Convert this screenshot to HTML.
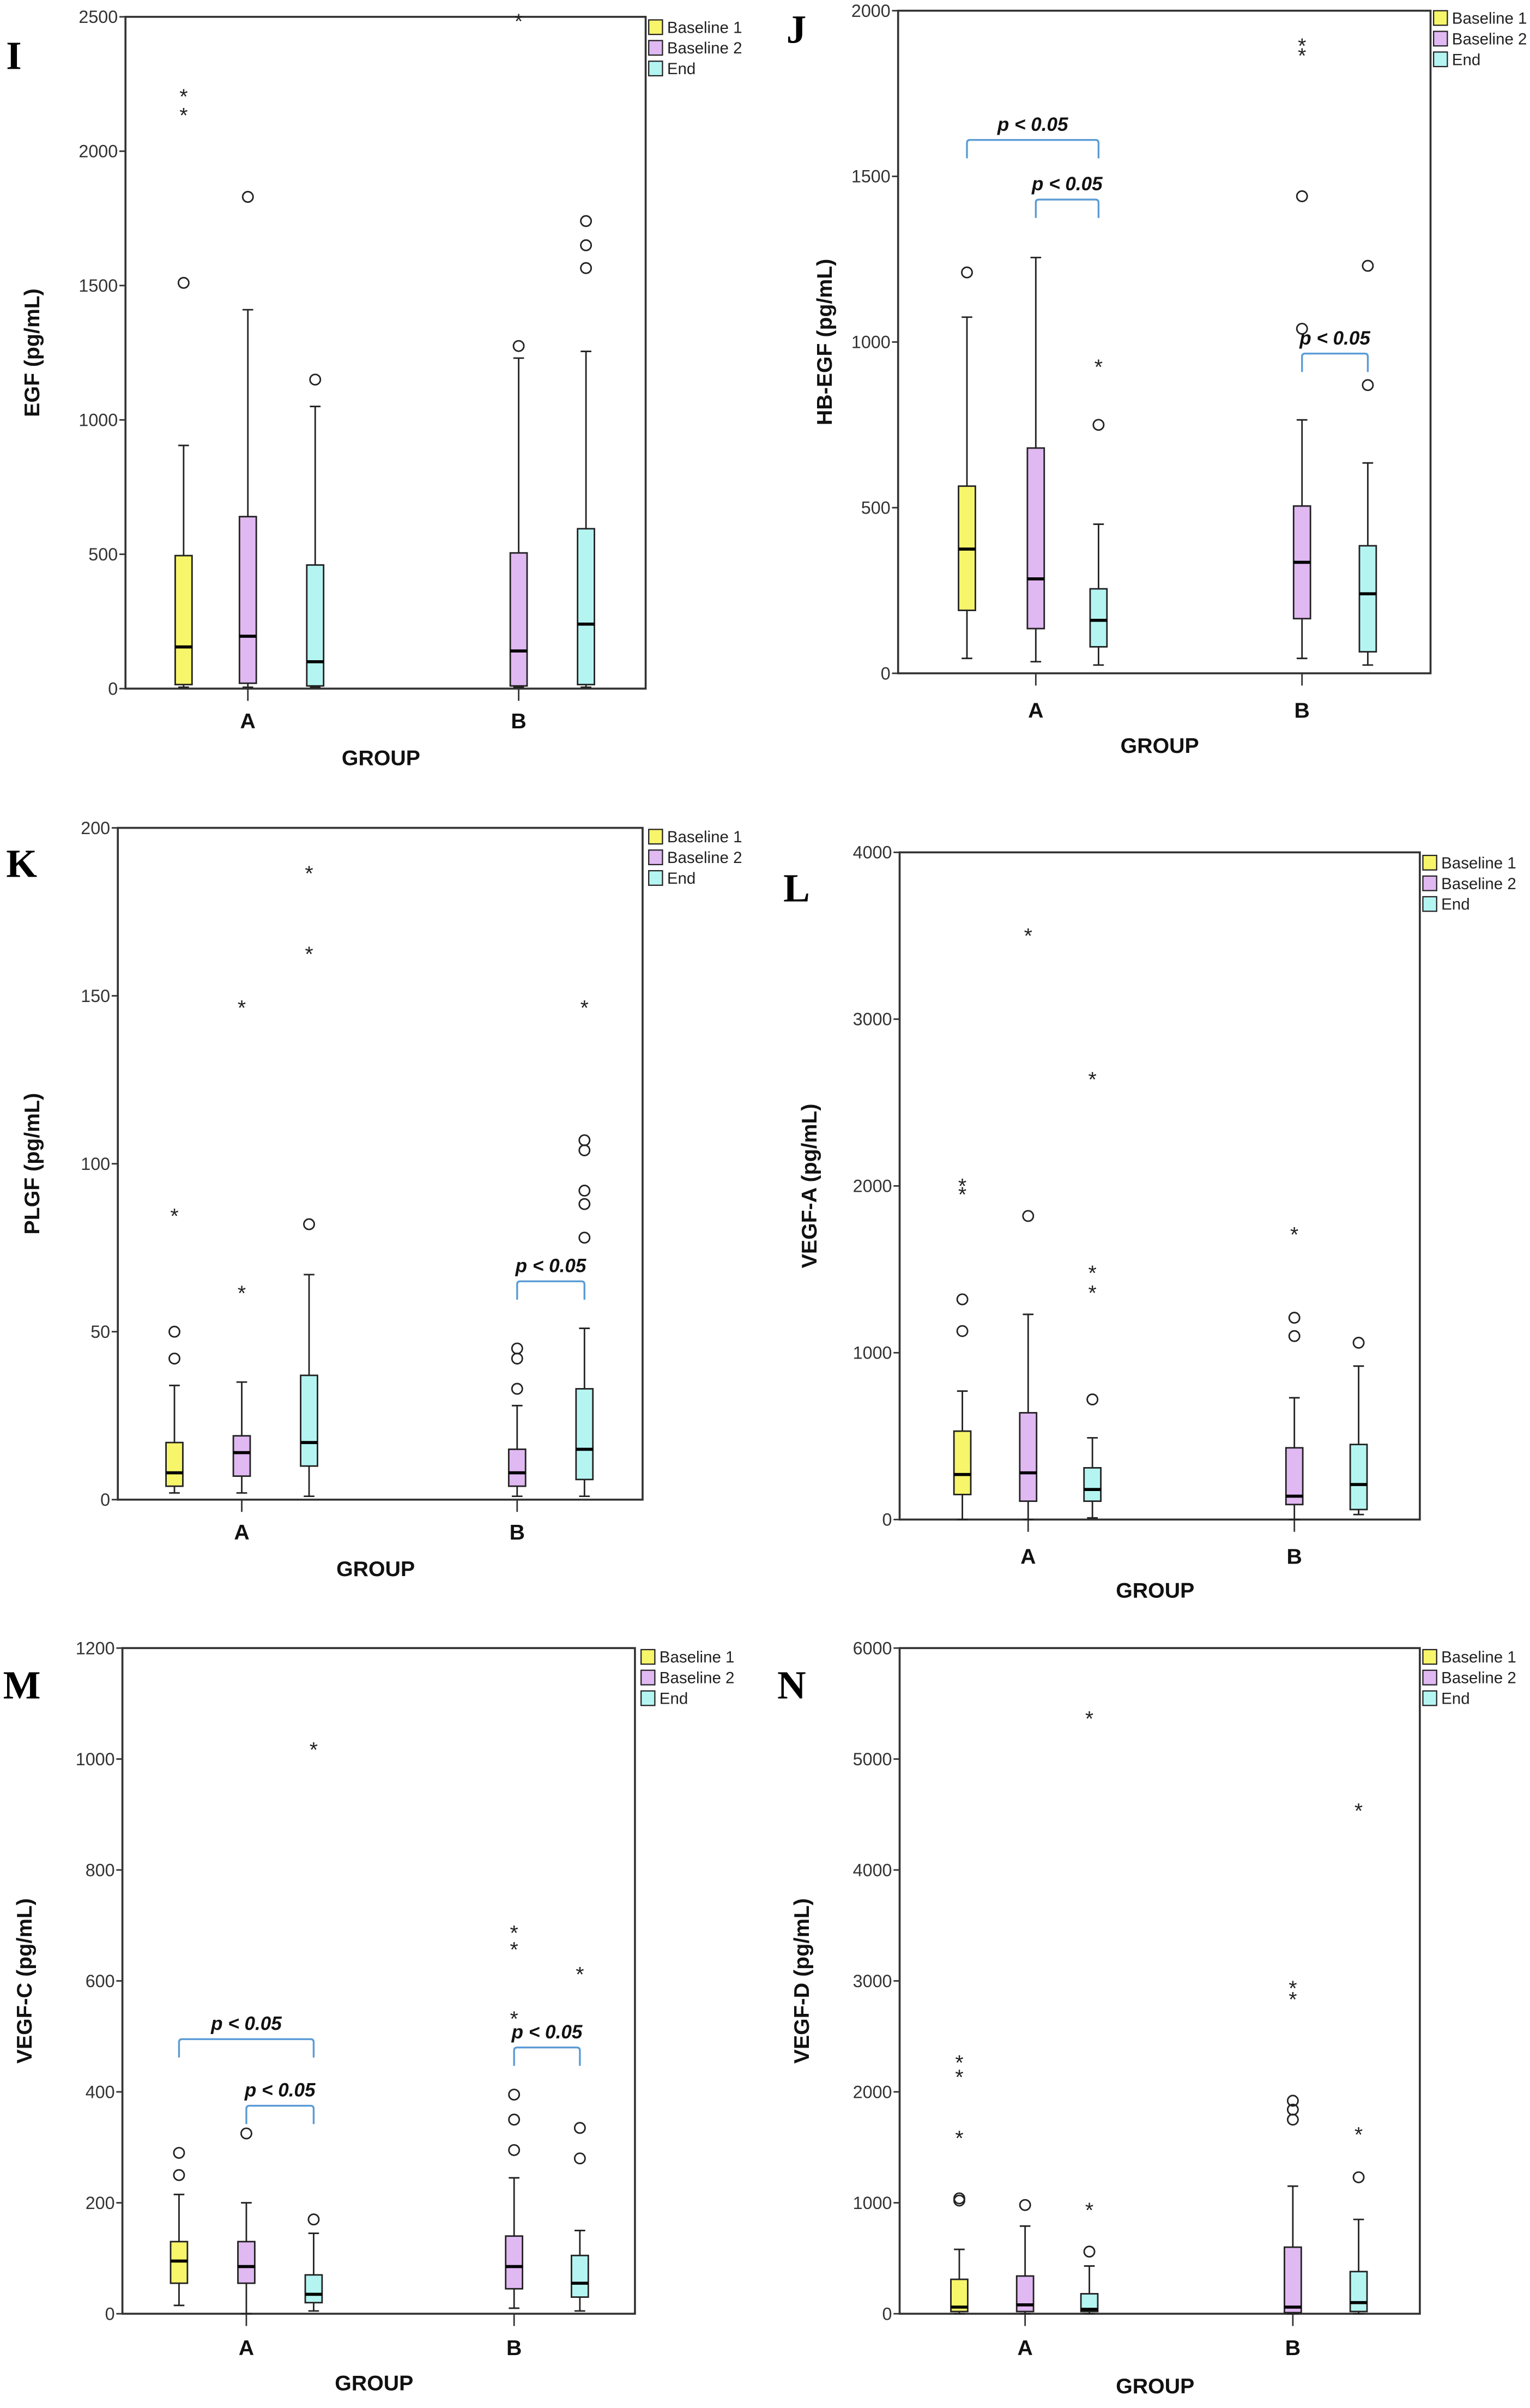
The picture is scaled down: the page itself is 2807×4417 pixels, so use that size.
<!DOCTYPE html>
<html><head><meta charset="utf-8"><style>
html,body{margin:0;padding:0;background:#fff;}
svg{display:block;}
</style></head><body>
<svg id="fig" xmlns="http://www.w3.org/2000/svg" width="2807" height="4417" viewBox="0 0 1000 1573.6" font-family="Liberation Sans, sans-serif">
<rect width="1000" height="1573.6" fill="#fff"/>
</svg>
<script>
// ---- data (box stats: [low, q1, median, q3, high]) ----
const groups = ["A","B"];
const seriesNames = ["Baseline 1","Baseline 2","End"];
const iTicks = [0,500,1000,1500,2000,2500];
const iStats = [[5,15,155,495,905],[5,20,195,640,1410],[5,10,100,460,1050],null,[5,10,140,505,1230],[5,15,240,595,1255]];
const iCircles = [[1510],[1830],[1150],[],[1275],[1565,1650,1740]];
const iStars = [[2210,2140],[],[],[],[2490],[]];
const jTicks = [0,500,1000,1500,2000];
const jStats = [[45,190,375,565,1075],[35,135,285,680,1255],[25,80,160,255,450],null,[45,165,335,505,765],[25,65,240,385,635]];
const jCircles = [[1210],[],[750],[],[1040,1440],[870,1230]];
const jStars = [[],[],[930],[],[1870,1900],[]];
const kTicks = [0,50,100,150,200];
const kStats = [[2,4,8,17,34],[2,7,14,19,35],[1,10,17,37,67],null,[1,4,8,15,28],[1,6,15,33,51]];
const kCircles = [[42,50],[],[82],[],[33,42,45],[78,88,92,104,107]];
const kStars = [[85],[62,147],[163,187],[],[],[147]];
const lTicks = [0,1000,2000,3000,4000];
const lStats = [[0,150,270,530,770],[0,110,280,640,1230],[10,110,180,310,490],null,[0,90,140,430,730],[30,60,210,450,920]];
const lCircles = [[1130,1320],[1820],[720],[],[1100,1210],[1060]];
const lStars = [[1960,2010],[3510],[1370,1490,2650],[],[1720],[]];
const mTicks = [0,200,400,600,800,1000,1200];
const mStats = [[15,55,95,130,215],[0,55,85,130,200],[5,20,35,70,145],null,[10,45,85,140,245],[5,30,55,105,150]];
const mCircles = [[250,290],[325],[170],[],[295,350,395],[280,335]];
const mStars = [[],[],[1020],[],[535,660,690],[615]];
const nTicks = [0,1000,2000,3000,4000,5000,6000];
const nStats = [[0,20,60,310,580],[0,20,80,340,790],[0,20,40,180,430],null,[0,10,60,600,1150],[0,20,100,380,850]];
const nCircles = [[1020,1040],[980],[560],[],[1750,1840,1920],[1230]];
const nStars = [[1600,2150,2280],[],[950,5380],[],[2850,2950],[1630,4550]];
// brackets: [seriesIndexFrom, seriesIndexTo, valueLevel]
const jBrackets = [[0,2,1610],[1,2,1430],[4,5,965]];
const kBrackets = [[4,5,65]];
const mBrackets = [[0,2,495],[1,2,375],[4,5,480]];

const NS="http://www.w3.org/2000/svg";
const svg=document.getElementById('fig');
const fills=["#f7f56a","#e0b8f2","#b4f5f2"];
function el(tag,attrs,parent){const e=document.createElementNS(NS,tag);for(const k in attrs)e.setAttribute(k,attrs[k]);(parent||svg).appendChild(e);return e;}

const panels=[
 {letter:"I",lx:4,ly:45,title:"EGF (pg/mL)",tx:22,x0:82,x1:422,y0:11,y1:450,ticks:iTicks,stats:iStats,circ:iCircles,stars:iStars,br:[],cx:[120,162,206,250,339,383],ga:[162,339],gy:471,gty:500,leg:[424,13]},
 {letter:"J",lx:514,ly:28,title:"HB-EGF (pg/mL)",tx:540,x0:587,x1:935,y0:7,y1:440,ticks:jTicks,stats:jStats,circ:jCircles,stars:jStars,br:jBrackets,cx:[632,677,718,760,851,894],ga:[677,851],gy:464,gty:492,leg:[937,7]},
 {letter:"K",lx:4,ly:573,title:"PLGF (pg/mL)",tx:22,x0:77,x1:420,y0:541,y1:980,ticks:kTicks,stats:kStats,circ:kCircles,stars:kStars,br:kBrackets,cx:[114,158,202,250,338,382],ga:[158,338],gy:1001,gty:1030,leg:[424,542]},
 {letter:"L",lx:512,ly:589,title:"VEGF-A (pg/mL)",tx:530,x0:588,x1:928,y0:557,y1:993,ticks:lTicks,stats:lStats,circ:lCircles,stars:lStars,br:[],cx:[629,672,714,760,846,888],ga:[672,846],gy:1017,gty:1044,leg:[930,559]},
 {letter:"M",lx:2,ly:1110,title:"VEGF-C (pg/mL)",tx:17,x0:80,x1:415,y0:1077,y1:1512,ticks:mTicks,stats:mStats,circ:mCircles,stars:mStars,br:mBrackets,cx:[117,161,205,250,336,379],ga:[161,336],gy:1534,gty:1562,leg:[419,1078]},
 {letter:"N",lx:508,ly:1110,title:"VEGF-D (pg/mL)",tx:525,x0:588,x1:928,y0:1077,y1:1512,ticks:nTicks,stats:nStats,circ:nCircles,stars:nStars,br:[],cx:[627,670,712,760,845,888],ga:[670,845],gy:1534,gty:1564,leg:[930,1078]}
];

panels.forEach(p=>{
 const g=el('g',{});
 
 
 const vmax=p.ticks[p.ticks.length-1];
 const Y=v=>p.y1-(v/vmax)*(p.y1-p.y0);
 const L=el('text',{x:p.lx,y:p.ly,'font-family':'Liberation Serif, serif','font-weight':'bold','font-size':26},g);L.textContent=p.letter;
 
 
 const fr=el('rect',{x:p.x0,y:p.y0,width:p.x1-p.x0,height:p.y1-p.y0,fill:'none',stroke:'#333','stroke-width':1.3},g);
 
 
 p.ticks.forEach(t=>{
  el('line',{x1:p.x0-4,x2:p.x0,y1:Y(t),y2:Y(t),stroke:'#333','stroke-width':1},g);
  const tt=el('text',{x:p.x0-5,y:Y(t)+4,'text-anchor':'end','font-size':11.5,fill:'#333'},g);tt.textContent=t;
  
  
 });
 const yt=el('text',{x:p.tx,y:(p.y0+p.y1)/2,transform:`rotate(-90 ${p.tx} ${(p.y0+p.y1)/2})`,'text-anchor':'middle','font-weight':'bold','font-size':14,fill:'#111','dominant-baseline':'middle'},g);yt.textContent=p.title;
 
 
 groups.forEach((gr,i)=>{
  el('line',{x1:p.ga[i],x2:p.ga[i],y1:p.y1,y2:p.y1+8,stroke:'#333','stroke-width':1},g);
  const t=el('text',{x:p.ga[i],y:p.gy+5,'text-anchor':'middle','font-weight':'bold','font-size':14,fill:'#111'},g);t.textContent=gr;
  
  
 });
 const xt=el('text',{x:(p.x0+p.x1)/2-3,y:p.gty,'text-anchor':'middle','font-weight':'bold','font-size':14,fill:'#111'},g);xt.textContent='GROUP';
 
 
 const bw=11;
 p.stats.forEach((s,i)=>{
  if(!s)return;
  const c=p.cx[i];const fill=fills[i%3];
  const b=el('g',{},g);
  
  
  el('line',{x1:c,x2:c,y1:Y(s[0]),y2:Y(s[1]),stroke:'#222','stroke-width':1},b);
  el('line',{x1:c,x2:c,y1:Y(s[3]),y2:Y(s[4]),stroke:'#222','stroke-width':1},b);
  el('line',{x1:c-3.5,x2:c+3.5,y1:Y(s[0]),y2:Y(s[0]),stroke:'#222','stroke-width':1},b);
  el('line',{x1:c-3.5,x2:c+3.5,y1:Y(s[4]),y2:Y(s[4]),stroke:'#222','stroke-width':1},b);
  el('rect',{x:c-bw/2,y:Y(s[3]),width:bw,height:Math.max(0.5,Y(s[1])-Y(s[3])),fill:fill,stroke:'#222','stroke-width':1},b);
  el('line',{x1:c-bw/2,x2:c+bw/2,y1:Y(s[2]),y2:Y(s[2]),stroke:'#000','stroke-width':2},b);
  p.circ[i].forEach(v=>{const o=el('circle',{cx:c,cy:Y(v),r:3.4,fill:'none',stroke:'#222','stroke-width':1},b);
   
   });
  p.stars[i].forEach(v=>{const st=el('text',{x:c,y:Y(v)+6,'text-anchor':'middle','font-size':14,fill:'#222'},b);st.textContent='*';
   
   });
 });
 p.br.forEach(br=>{
  const a=p.cx[br[0]],z=p.cx[br[1]],y=Y(br[2]);
  const bg=el('g',{},g);
  
  
  el('path',{d:`M${a} ${y+12} V${y+2} Q${a} ${y} ${a+2} ${y} H${z-2} Q${z} ${y} ${z} ${y+2} V${y+12}`,fill:'none',stroke:'#5b9bd5','stroke-width':1.2},bg);
  const t=el('text',{x:(a+z)/2,y:y-6,'text-anchor':'middle','font-weight':'bold','font-style':'italic','font-size':12.5,fill:'#111'},bg);t.textContent='p < 0.05';
 });
 const lg=el('g',{},g);
 
 
 seriesNames.forEach((n,i)=>{
  const y=p.leg[1]+i*13.5;
  el('rect',{x:p.leg[0],y:y,width:9,height:9.5,fill:fills[i],stroke:'#222','stroke-width':0.8},lg);
  const t=el('text',{x:p.leg[0]+12,y:y+8.5,'font-size':10.5,fill:'#222'},lg);t.textContent=n;
  
  
 });
});
</script>
</body></html>
